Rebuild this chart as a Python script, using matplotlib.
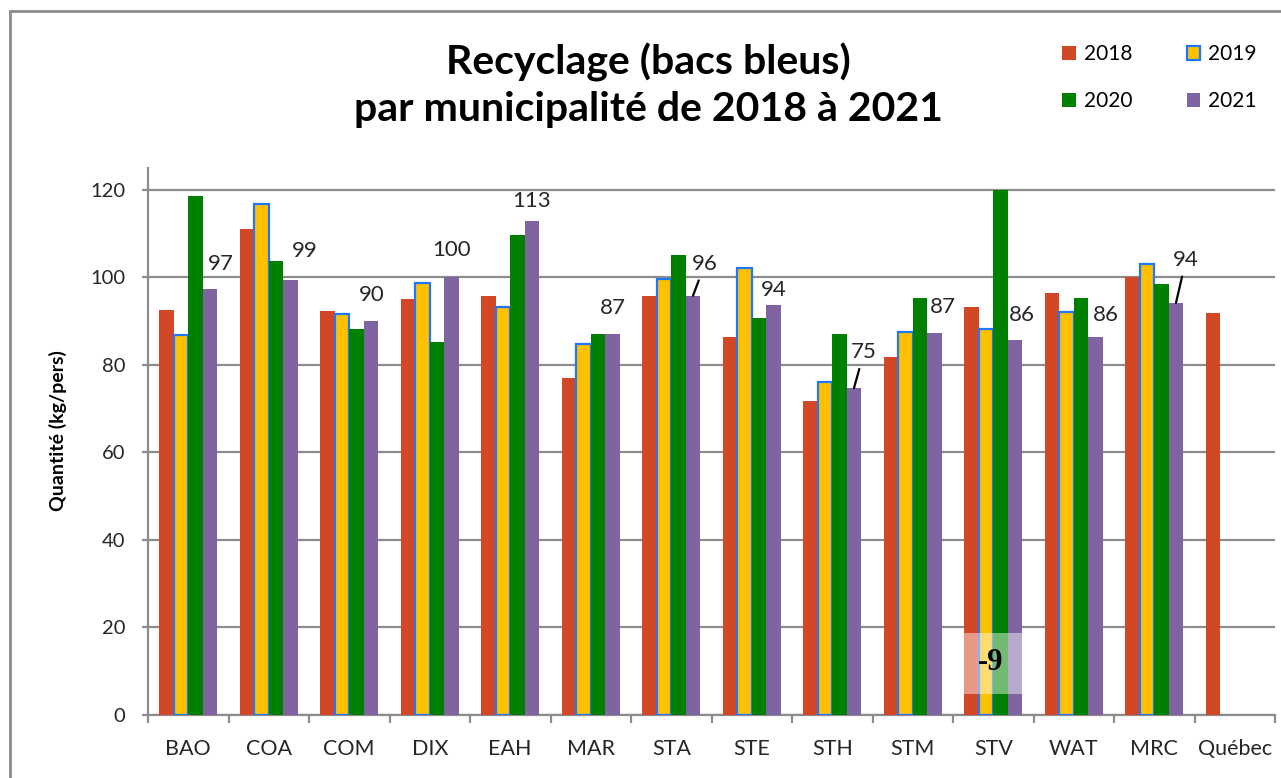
import numpy as np
import matplotlib
matplotlib.use("Agg")
import matplotlib.pyplot as plt
from matplotlib.patches import Rectangle

# Data (kg/pers)
categories = ["BAO", "COA", "COM", "DIX", "EAH", "MAR", "STA", "STE",
              "STH", "STM", "STV", "WAT", "MRC", "Québec"]
years = ["2018", "2019", "2020", "2021"]
nan = np.nan
v2018 = [92.6, 111.1, 92.3, 95.1, 95.8, 77.0, 95.8, 86.3, 71.8, 81.9, 93.3, 96.4, 100.2, 91.8]
v2019 = [86.9, 116.8, 91.6, 98.7, 93.2, 84.7, 99.6, 102.2, 76.0, 87.5, 88.3, 92.1, 103.1, nan]
v2020 = [118.6, 103.8, 88.2, 85.2, 109.6, 87.1, 105.1, 90.7, 87.1, 95.4, 120.0, 95.4, 98.4, nan]
v2021 = [97.4, 99.4, 90.1, 100.2, 112.8, 87.1, 95.8, 93.6, 74.7, 87.4, 85.8, 86.3, 94.2, nan]

colors = ["#D24726", "#FFC000", "#008000", "#8064A2"]

# label offsets for the 2021 values (pixels: right, up) and leader line flag
label_dx = [11, 14, 1, 0, 0, 0, 12, 0, 10, 8, 7, 10, 10]
label_dy = [25, 29, 26, 27, 20, 26, 32, 15, 36, 26, 25, 22, 43]
label_leader = [False, False, False, False, False, False, True, False,
                True, False, False, False, True]

plt.rcParams["font.family"] = ["Lato", "DejaVu Sans"]

fig = plt.figure(figsize=(12.81, 7.78), dpi=100)
ax = fig.add_axes([148 / 1281, 1 - 715 / 778, 1127 / 1281, 547 / 778])

x = np.arange(len(categories))
width = 0.18
series = [v2018, v2019, v2020, v2021]
bars = []
for i, (vals, col) in enumerate(zip(series, colors)):
    offs = (i - 1.5) * width
    if years[i] == "2019":
        b = ax.bar(x + offs, vals, width, color=col, edgecolor="#1E78FF",
                   linewidth=1.6, label=years[i], zorder=3)
    else:
        b = ax.bar(x + offs, vals, width, color=col, linewidth=0,
                   label=years[i], zorder=3)
    bars.append(b)

# data labels on 2021 bars
px = 0.72
for i, val in enumerate(v2021):
    if np.isnan(val):
        continue
    xb = x[i] + 1.5 * width
    arrow = None
    if label_leader[i]:
        arrow = dict(arrowstyle="-", color="black", lw=1.6, shrinkA=3, shrinkB=0)
    ax.annotate(f"{val:.0f}", xy=(xb, val),
                xytext=(label_dx[i] * px, label_dy[i] * px),
                textcoords="offset points", ha="center", va="center",
                fontsize=16, color="#262626", arrowprops=arrow, zorder=5)

ax.set_xlim(-0.5, len(categories) - 0.5)
ax.set_ylim(0, 125)
ax.set_yticks(np.arange(0, 121, 20))
ax.yaxis.grid(True, color="#8C8C8C", linewidth=1.6, zorder=0)
ax.set_axisbelow(True)

# category boundaries as tick marks, names centred between them
ax.set_xticks(np.arange(-0.5, len(categories), 1.0))
ax.set_xticklabels([])
ax.set_xticks(x, minor=True)
ax.set_xticklabels(categories, minor=True)
ax.tick_params(axis="x", which="major", length=6, width=1.6, color="#8C8C8C")
ax.tick_params(axis="x", which="minor", length=0, pad=17, labelsize=15.5,
               labelcolor="#262626")
ax.tick_params(axis="y", length=4.5, width=1.6, color="#8C8C8C", pad=12,
               labelsize=14.5, labelcolor="#262626")

for s in ["top", "right"]:
    ax.spines[s].set_visible(False)
for s in ["left", "bottom"]:
    ax.spines[s].set_color("#8C8C8C")
    ax.spines[s].set_linewidth(1.6)

ax.set_ylabel("Quantité (kg/pers)", fontsize=14, fontweight="bold")
ax.yaxis.set_label_coords(-0.072, 0.52)

# washed-out "-9" mark over STV
stv = categories.index("STV")
ax.add_patch(Rectangle((stv - 0.36, 4.8), 0.73, 13.9, facecolor="white",
                       alpha=0.45, linewidth=0, zorder=4))
ax.text(stv - 0.03, 11.9, "-9", family="Liberation Serif", fontweight="bold",
        fontsize=22, ha="center", va="center", color="black", zorder=5)

fig.text(648 / 1281, 1 - 85 / 778,
         "Recyclage (bacs bleus)\npar municipalité de 2018 à 2021",
         ha="center", va="center", fontsize=29.5, fontweight="bold",
         linespacing=1.3)

order = [0, 2, 1, 3]
fig.legend([bars[k] for k in order], [years[k] for k in order], ncol=2,
           loc="upper left", bbox_to_anchor=(1062 / 1281, 1 - 44 / 778),
           frameon=False, fontsize=15, handlelength=0.65, handleheight=0.65,
           handletextpad=0.4, columnspacing=2.6, labelspacing=1.3,
           borderpad=0, borderaxespad=0)

# chart frame (top and left edges visible)
fig.add_artist(Rectangle((10 / 1281, -0.1), 1.2, 1.1 - 11 / 778,
                         transform=fig.transFigure, fill=False,
                         edgecolor="#8C8C8C", linewidth=2))

fig.savefig("out.png", dpi=100)
